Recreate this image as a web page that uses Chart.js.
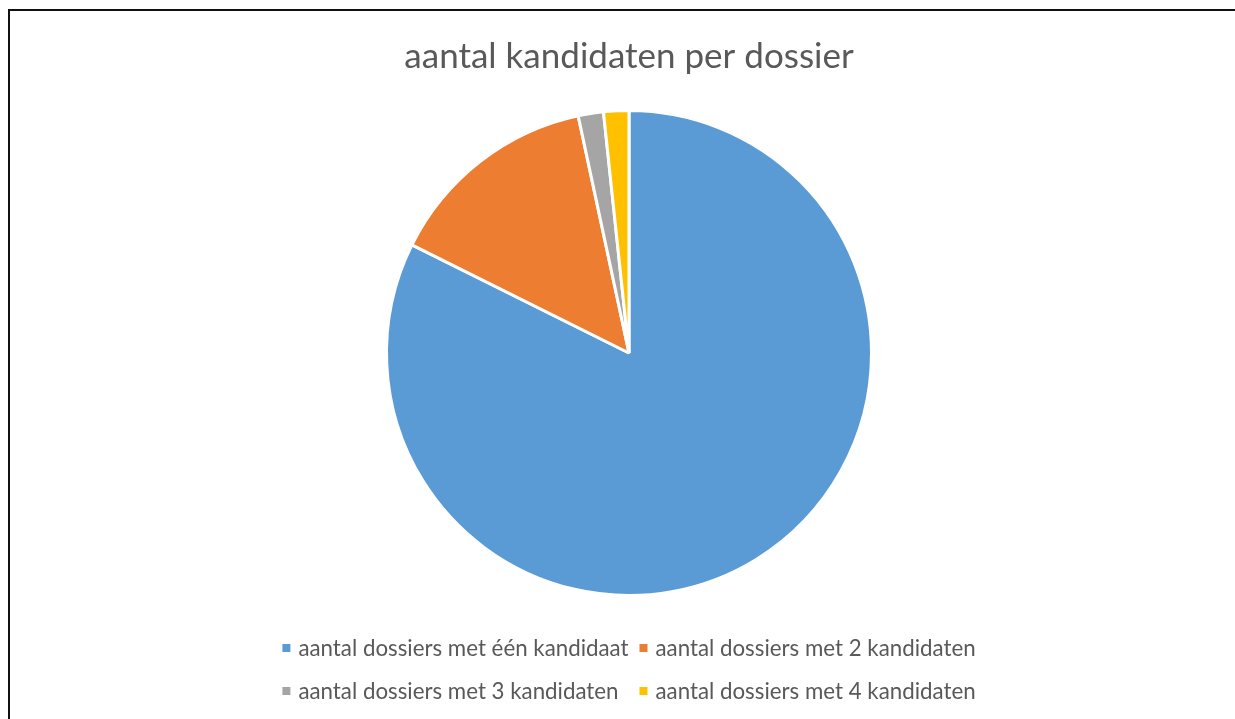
<!DOCTYPE html>
<html>
<head>
<meta charset="utf-8">
<script src="https://cdn.jsdelivr.net/npm/chart.js@4.4.1/dist/chart.umd.min.js"></script>
<style>
  html, body { margin: 0; padding: 0; background: #fff; overflow: hidden; }
  #frame {
    position: absolute; left: 8px; top: 9px; width: 1250px; height: 730px;
    border-left: 2px solid #111; border-top: 2px solid #111;
  }
  #wrap { position: absolute; left: 10px; top: 11px; width: 1238px; height: 708px; }
</style>
</head>
<body>
<div id="frame"></div>
<div id="wrap"><canvas id="pie"></canvas></div>
<script>
const categories = [
    "aantal dossiers met één kandidaat",
    "aantal dossiers met 2 kandidaten",
    "aantal dossiers met 3 kandidaten",
    "aantal dossiers met 4 kandidaten"
];
const dossierCounts = [98, 17, 2, 2];
const sliceColors = ["#5B9BD5", "#ED7D31", "#A5A5A5", "#FFC000"];
const chartTitle = "aantal kandidaten per dossier";

const FONT = "Lato, Calibri, 'Open Sans', sans-serif";
const TEXT_COLOR = "#595959";

// legenda in twee kolommen, zoals in Excel
const gridLegend = {
    id: "gridLegend",
    afterDraw(chart) {
        const ctx = chart.ctx;
        const cols = 2;
        const box = 8, gapBox = 8, gapItem = 11;
        const rowsY = [637, 680];
        ctx.save();
        ctx.font = "22.3px " + FONT;
        ctx.textBaseline = "middle";
        const widths = categories.map(c => box + gapBox + ctx.measureText(c).width);
        const colW = [];
        for (let c = 0; c < cols; c++) {
            colW[c] = Math.max(...widths.filter((w, i) => i % cols === c));
        }
        const total = colW.reduce((a, b) => a + b, 0) + gapItem * (cols - 1);
        const cx = (chart.chartArea.left + chart.chartArea.right) / 2;
        const x0 = cx - total / 2;
        categories.forEach((label, i) => {
            const c = i % cols, r = Math.floor(i / cols);
            let x = x0;
            for (let k = 0; k < c; k++) x += colW[k] + gapItem;
            const y = rowsY[r];
            ctx.fillStyle = sliceColors[i];
            ctx.fillRect(x, y - box / 2, box, box);
            ctx.fillStyle = TEXT_COLOR;
            ctx.fillText(label, x + box + gapBox, y + 1);
        });
        ctx.restore();
    }
};

new Chart(document.getElementById("pie"), {
    type: "pie",
    data: {
        labels: categories,
        datasets: [{
            data: dossierCounts,
            backgroundColor: sliceColors,
            borderColor: "#ffffff",
            borderWidth: 3,
            hoverOffset: 0
        }]
    },
    options: {
        responsive: true,
        maintainAspectRatio: false,
        animation: false,
        layout: { padding: { top: 0, bottom: 122, left: 0, right: 0 } },
        plugins: {
            legend: { display: false },
            tooltip: { enabled: false },
            title: {
                display: true,
                text: chartTitle,
                color: TEXT_COLOR,
                font: { family: FONT, size: 35, weight: "normal" },
                padding: { top: 25, bottom: 31 }
            }
        }
    },
    plugins: [gridLegend]
});
</script>
</body>
</html>
